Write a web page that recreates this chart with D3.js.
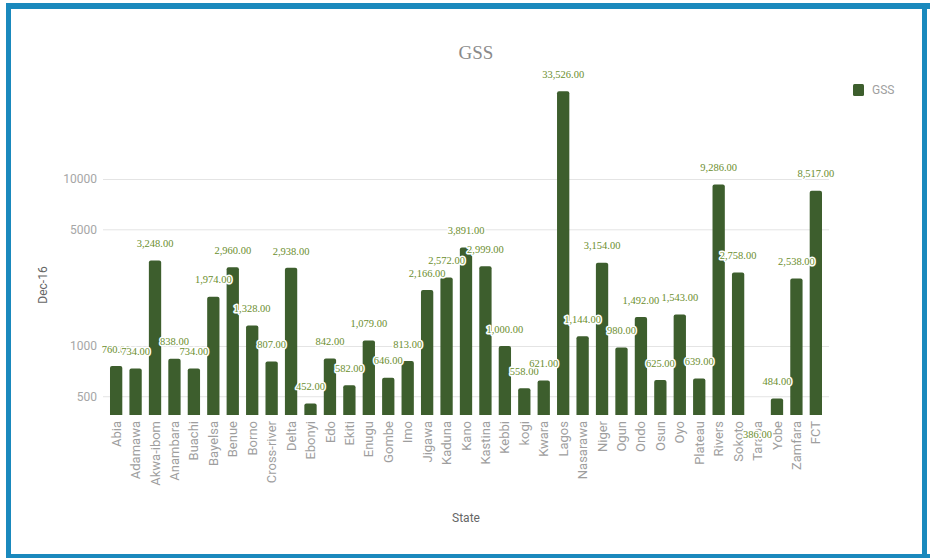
<!DOCTYPE html>
<html>
<head>
<meta charset="utf-8">
<script src="https://cdn.jsdelivr.net/npm/d3@7"></script>
<style>
  html, body { margin: 0; padding: 0; background: #fff; }
  svg { display: block; }
</style>
</head>
<body>
<svg id="chart" width="930" height="558"></svg>
<script>
// GSS figures by state, Dec-16
const states = ["Abia","Adamawa","Akwa-ibom","Anambara","Buachi","Bayelsa","Benue","Borno","Cross-river","Delta",
  "Ebonyi","Edo","Ekiti","Enugu","Gombe","Imo","Jigawa","Kaduna","Kano","Kastina","Kebbi","kogi","Kwara","Lagos",
  "Nasarawa","Niger","Ogun","Ondo","Osun","Oyo","Plateau","Rivers","Sokoto","Taraba","Yobe","Zamfara","FCT"];
const gss = [760,734,3248,838,734,1974,2960,1328,807,2938,
  452,842,582,1079,646,813,2166,2572,3891,2999,1000,558,621,33526,
  1144,3154,980,1492,625,1543,639,9286,2758,386,484,2538,8517];
const yTicks = [500, 1000, 5000, 10000];
const seriesName = "GSS";
const yTitle = "Dec-16";
const xTitle = "State";

const svg = d3.select("#chart");
const barColor = "#3d5e2d";
const labelColor = "#6b8e2e";

// frame
svg.append("rect").attr("x", 6).attr("y", 3).attr("width", 924).attr("height", 6).attr("fill", "#1a89bd");
svg.append("rect").attr("x", 6).attr("y", 3).attr("width", 5).attr("height", 555).attr("fill", "#1a89bd");
svg.append("rect").attr("x", 6).attr("y", 554).attr("width", 924).attr("height", 4).attr("fill", "#1a89bd");
svg.append("rect").attr("x", 922).attr("y", 3).attr("width", 5).attr("height", 555).attr("fill", "#1a89bd");

const x = d3.scaleBand().domain(states).range([103, 829]).paddingInner(0.367).paddingOuter(0.36);
const y = d3.scaleLog().domain([d3.min(gss), 45000]).range([415, 70]);

// gridlines + y tick labels
const yAxis = d3.axisLeft(y).tickValues(yTicks).tickFormat(d3.format("d")).tickSize(-(829 - 103)).tickPadding(6);
const gy = svg.append("g").attr("transform", "translate(103,0)").call(yAxis);
gy.select(".domain").remove();
gy.selectAll(".tick line").attr("stroke", "#e4e4e4").attr("stroke-width", 1);
gy.selectAll(".tick text").attr("fill", "#a6a6a6").style("font-family", "Roboto, sans-serif").style("font-size", "12px");

// bars
const plotBottom = y.range()[0];
svg.append("g").selectAll("path").data(states).join("path")
  .attr("fill", barColor)
  .attr("d", (s, i) => {
    const x0 = x(s), w = x.bandwidth(), top = y(gss[i]), h = plotBottom - top;
    if (h <= 0) return "";
    const r = Math.min(2, h);
    return `M${x0},${plotBottom}V${top + r}Q${x0},${top} ${x0 + r},${top}H${x0 + w - r}Q${x0 + w},${top} ${x0 + w},${top + r}V${plotBottom}Z`;
  });

// x axis labels
const xAxis = d3.axisBottom(x).tickSize(0).tickPadding(0);
const gx = svg.append("g").attr("transform", `translate(0,${plotBottom})`).call(xAxis);
gx.select(".domain").remove();
gx.selectAll(".tick text")
  .attr("transform", "rotate(-90)")
  .attr("x", -6).attr("y", 0).attr("dy", "0.35em")
  .attr("text-anchor", "end")
  .attr("fill", "#9e9e9e")
  .style("font-family", "Roboto, sans-serif").style("font-size", "13px");

// value annotations (a bar at the axis minimum gets its label below the baseline)
const fmt = d3.format(",.2f");
svg.append("g").selectAll("text").data(states).join("text")
  .attr("x", s => x(s) + x.bandwidth() / 2)
  .attr("y", (s, i) => y(gss[i]) >= plotBottom ? plotBottom + 19 : y(gss[i]) - 17)
  .attr("dy", "0.35em")
  .attr("text-anchor", "middle")
  .attr("fill", labelColor)
  .attr("stroke", "#fff").attr("stroke-width", 3).attr("stroke-linejoin", "round")
  .attr("paint-order", "stroke")
  .style("font-family", "Georgia, 'Liberation Serif', serif")
  .style("font-variant-numeric", "oldstyle-nums")
  .style("font-size", "10.5px")
  .text((s, i) => fmt(gss[i]));

// title
svg.append("text").attr("x", 476).attr("y", 52).attr("dy", "0.35em").attr("text-anchor", "middle")
  .attr("fill", "#8a8a8a").style("font-family", "'Liberation Serif', serif").style("font-size", "19px")
  .text(seriesName);

// legend
svg.append("rect").attr("x", 853).attr("y", 84).attr("width", 11).attr("height", 12).attr("rx", 1.5).attr("fill", barColor);
svg.append("text").attr("x", 872).attr("y", 90).attr("dy", "0.35em").attr("fill", "#a0a0a0")
  .style("font-family", "Roboto, sans-serif").style("font-size", "12px").text(seriesName);

// axis titles
svg.append("text").attr("transform", "translate(43,285) rotate(-90)").attr("dy", "0.35em").attr("text-anchor", "middle")
  .attr("fill", "#666").style("font-family", "Roboto, sans-serif").style("font-size", "12px").text(yTitle);
svg.append("text").attr("x", 466).attr("y", 518).attr("dy", "0.35em").attr("text-anchor", "middle")
  .attr("fill", "#666").style("font-family", "Roboto, sans-serif").style("font-size", "12px").text(xTitle);
</script>
</body>
</html>
